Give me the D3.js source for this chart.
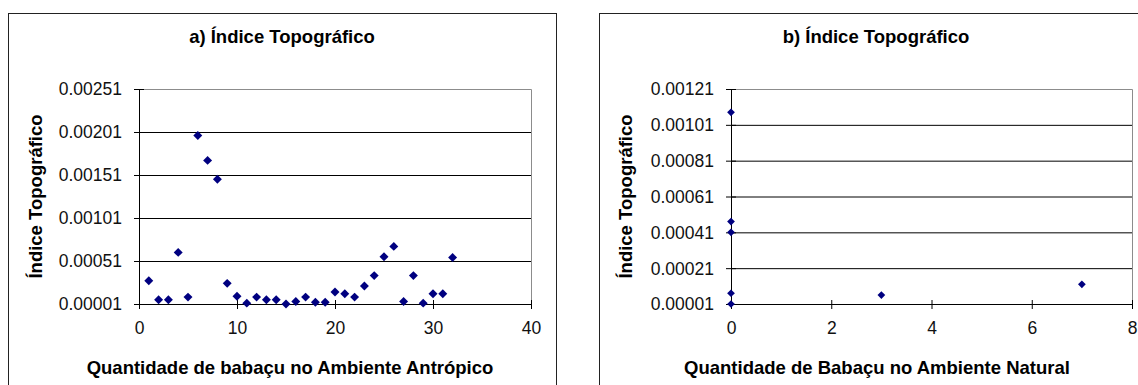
<!DOCTYPE html>
<html>
<head>
<meta charset="utf-8">
<script src="https://cdn.jsdelivr.net/npm/d3@7"></script>
<style>
  body { margin: 0; background: #fff; }
  svg { display: block; }
  .tick text { font-family: "Liberation Sans", Arial, sans-serif; }
</style>
</head>
<body>
<div id="chart"></div>
<script>
// data
let xA = [1,2,3,4,5,6,7,8,9,10,11,12,13,14,15,16,17,18,19,20,21,22,23,24,25,26,27,28,29,30,31,32];
let yA = [0.00028,0.00006,0.00006,0.00061,0.00009,0.00197,0.00168,0.00146,0.00025,0.00010,0.00002,0.00009,0.00006,0.00006,0.00001,0.00004,0.00009,0.00003,0.00003,0.00015,0.00013,0.00009,0.00022,0.00034,0.00056,0.00068,0.00004,0.00034,0.00002,0.00013,0.00013,0.00055];
let xB = [0,0,0,0,0,3,7];
let yB = [0.00108,0.00047,0.00041,0.00007,0.00001,0.00006,0.00012];

let xTicksA = [0,10,20,30,40];
let yTicksA = [0.00001,0.00051,0.00101,0.00151,0.00201,0.00251];
let xTicksB = [0,2,4,6,8];
let yTicksB = [0.00001,0.00021,0.00041,0.00061,0.00081,0.00101,0.00121];

let svg = d3.select(`#chart`).append(`svg`)
    .attr(`width`, 1138)
    .attr(`height`, 385);

function drawPanel(o){
    let g = svg.append(`g`).attr(`transform`, `translate(${o.left},13)`);

    // chart area border
    g.append(`rect`)
        .attr(`x`, 0.5).attr(`y`, 0.5)
        .attr(`width`, o.boxW).attr(`height`, 420)
        .attr(`fill`, `#fff`)
        .attr(`stroke`, `#222`);

    let plot = g.append(`g`).attr(`transform`, `translate(${o.plotX},76)`);
    let w = o.plotW, h = 215;

    let x = d3.scaleLinear().domain(d3.extent(o.xTicks)).range([0, w]);
    let y = d3.scaleLinear().domain(d3.extent(o.yTicks)).range([h, 0]);

    // plot border (top / right in grey)
    plot.append(`path`)
        .attr(`d`, `M0.5,0.5H${w+0.5}V${h}`)
        .attr(`fill`, `none`)
        .attr(`stroke`, `#8c8c8c`);

    // gridlines
    plot.append(`g`)
        .attr(`class`, `grid`)
        .call(d3.axisLeft(y).tickValues(o.yTicks.slice(1, -1)).tickSize(-w).tickFormat(``))
        .call(s => s.select(`.domain`).remove())
        .selectAll(`line`).attr(`stroke`, `#000`);

    // y axis
    let ya = plot.append(`g`)
        .call(d3.axisLeft(y).tickValues(o.yTicks).tickSize(5).tickPadding(12).tickFormat(d3.format(`.5f`)));
    ya.select(`.domain`).attr(`d`, `M0.5,0V${h}`).attr(`stroke`, `#000`);
    ya.selectAll(`.tick line`).attr(`x1`, -5).attr(`x2`, 5).attr(`stroke`, `#000`);
    ya.selectAll(`.tick text`).attr(`font-size`, 17.5).attr(`fill`, `#111`).attr(`dy`, `0.34em`);

    // x axis
    let xa = plot.append(`g`)
        .attr(`transform`, `translate(0,${h})`)
        .call(d3.axisBottom(x).tickValues(o.xTicks).tickSize(4).tickPadding(14));
    xa.select(`.domain`).attr(`d`, `M0,0.5H${w+0.5}`).attr(`stroke`, `#000`);
    xa.selectAll(`.tick line`).attr(`y1`, -4).attr(`y2`, 5).attr(`stroke`, `#000`);
    xa.selectAll(`.tick text`).attr(`font-size`, 17.5).attr(`fill`, `#111`);

    // points
    let pts = o.xs.map((v, i) => ({x: v, y: o.ys[i]}));
    plot.append(`g`)
        .selectAll(`path`)
        .data(pts)
        .enter()
        .append(`path`)
        .attr(`d`, d3.symbol(d3.symbolSquare, o.marker))
        .attr(`transform`, d => `translate(${x(d.x)},${y(d.y)}) rotate(45)`)
        .attr(`fill`, `#000080`);

    // titles
    g.append(`text`)
        .attr(`x`, o.titleX).attr(`y`, 30)
        .attr(`text-anchor`, `middle`)
        .attr(`font-family`, `"Liberation Sans", Arial, sans-serif`)
        .attr(`font-weight`, `bold`)
        .attr(`font-size`, 18.5)
        .text(o.title);

    g.append(`text`)
        .attr(`x`, o.xLabelX).attr(`y`, 361)
        .attr(`text-anchor`, `middle`)
        .attr(`font-family`, `"Liberation Sans", Arial, sans-serif`)
        .attr(`font-weight`, `bold`)
        .attr(`font-size`, 18.5)
        .text(o.xLabel);

    g.append(`text`)
        .attr(`transform`, `translate(${o.yLabelX},${76 + h/2}) rotate(-90)`)
        .attr(`text-anchor`, `middle`)
        .attr(`font-family`, `"Liberation Sans", Arial, sans-serif`)
        .attr(`font-weight`, `bold`)
        .attr(`font-size`, 18.5)
        .text(`Índice Topográfico`);
}

drawPanel({
    left: 8, boxW: 548, plotX: 131, plotW: 392,
    xTicks: xTicksA, yTicks: yTicksA, xs: xA, ys: yA, marker: 40,
    title: `a) Índice Topográfico`, titleX: 274, xLabelX: 282, yLabelX: 34,
    xLabel: `Quantidade de babaçu no Ambiente Antrópico`
});

drawPanel({
    left: 599, boxW: 560, plotX: 132, plotW: 401,
    xTicks: xTicksB, yTicks: yTicksB, xs: xB, ys: yB, marker: 30,
    title: `b) Índice Topográfico`, titleX: 277, xLabelX: 278, yLabelX: 33,
    xLabel: `Quantidade de Babaçu no Ambiente Natural`
});
</script>
</body>
</html>
